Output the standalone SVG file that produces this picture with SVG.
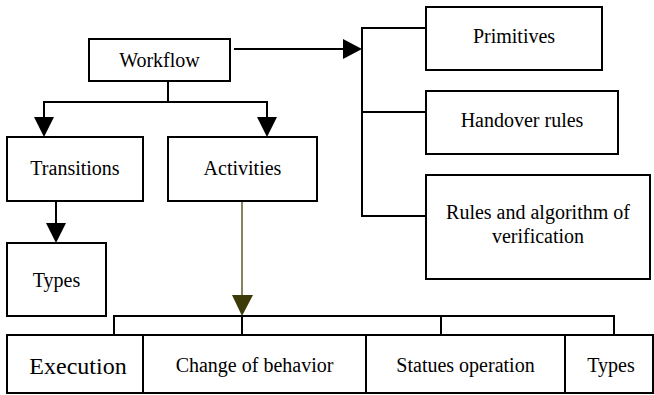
<svg xmlns="http://www.w3.org/2000/svg" width="654" height="395" viewBox="0 0 654 395">
<style>
.box{fill:#fff;stroke:#000;stroke-width:2}
.t{font-family:'Liberation Serif','Times New Roman',serif;font-size:20px;fill:#000;text-anchor:middle}
.big{font-size:24px}
.c{fill:none;stroke:#000;stroke-width:2}
.ah{fill:#000}
</style>
<rect width="654" height="395" fill="#fff"/>
<g id="connectors">
<polyline class="c" points="234,49 343,49"/>
<polygon class="ah" points="343,39 362,49 343,59"/>
<polyline class="c" points="426,28 362,28 362,216 426,216"/>
<line class="c" x1="362" y1="112" x2="426" y2="112"/>
<polyline class="c" points="168,81 168,102"/>
<polyline class="c" points="44,118 44,102 267,102 267,118"/>
<polygon class="ah" points="34,117 54,117 44,137"/>
<polygon class="ah" points="257,117 277,117 267,137"/>
<line class="c" x1="56" y1="201" x2="56" y2="224"/>
<polygon class="ah" points="46,223 66,223 56,243"/>
<line x1="242" y1="201" x2="242" y2="296" stroke="#5c5a2a" stroke-width="1.5"/>
<polygon points="232,295 253,295 242,316" fill="#3d3a0a"/>
<polyline class="c" points="114,335 114,316 614,316 614,335"/>
<line class="c" x1="242" y1="316" x2="242" y2="335"/>
<line class="c" x1="441" y1="316" x2="441" y2="335"/>
</g>
<g id="workflow"><rect class="box" x="89" y="39" width="141" height="42"/><text class="t" x="159.5" y="67">Workflow</text></g>
<g id="primitives"><rect class="box" x="426" y="7" width="176" height="63"/><text class="t" x="514" y="43">Primitives</text></g>
<g id="handover"><rect class="box" x="426" y="91" width="192" height="63"/><text class="t" x="522" y="127">Handover rules</text></g>
<g id="rules"><rect class="box" x="426" y="175" width="224" height="104"/><text class="t" x="538" y="219">Rules and algorithm of</text><text class="t" x="538" y="243">verification</text></g>
<g id="transitions"><rect class="box" x="7" y="137" width="136" height="64"/><text class="t" x="75" y="175">Transitions</text></g>
<g id="activities"><rect class="box" x="168" y="137" width="149" height="64"/><text class="t" x="242.5" y="175">Activities</text></g>
<g id="types-top"><rect class="box" x="7" y="243" width="99" height="73"/><text class="t" x="56.5" y="287">Types</text></g>
<g id="execution"><rect class="box" x="7" y="335" width="136" height="58"/><text class="t big" x="78" y="374">Execution</text></g>
<g id="change"><rect class="box" x="143" y="335" width="223" height="58"/><text class="t" x="254.5" y="372">Change of behavior</text></g>
<g id="statues"><rect class="box" x="366" y="335" width="199" height="58"/><text class="t" x="465.5" y="372">Statues operation</text></g>
<g id="types-bottom"><rect class="box" x="565" y="335" width="88" height="58"/><text class="t" x="611" y="372">Types</text></g>
</svg>
